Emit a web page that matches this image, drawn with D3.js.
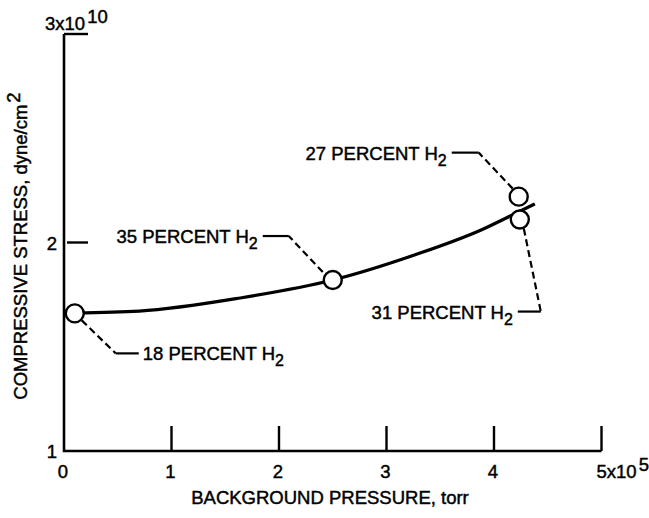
<!DOCTYPE html>
<html>
<head>
<meta charset="utf-8">
<script src="https://cdn.jsdelivr.net/npm/d3@7"></script>
<style>
  body { margin: 0; background: #fff; }
  text { font-family: "Liberation Sans", Arial, sans-serif; fill: #000; stroke: #000; stroke-width: 0.45; font-size: 18.5px; }
</style>
</head>
<body>
<script>
// size of the page
const w = 649;
const h = 518;

// measured points: pressure in 1e5 torr, stress in 1e10 dyne/cm2
const pressure = [0.1, 2.5, 4.23, 4.24];
const stress = [1.66, 1.82, 2.22, 2.11];
const percent = ["18", "35", "27", "31"];

// the faired curve through the points
const curveP = [0.1, 0.7, 1.64, 2.5, 3.26, 3.88, 4.19, 4.38];
const curveS = [1.662, 1.671, 1.734, 1.82, 1.94, 2.06, 2.137, 2.185];

// tick labels
const xTicks = [0, 1, 2, 3, 4, 5];
const yTicks = [1, 2, 3];

const xScale = d3.scaleLinear().domain([0, 5]).range([64, 601.5]);
const yScale = d3.scaleLinear().domain([1, 3]).range([451, 34]);

const svg = d3.select("body")
  .append("svg")
  .attr("width", w)
  .attr("height", h);

// axes (left and bottom lines only)
svg.append("path")
  .attr("d", `M${xScale(0)},${yScale(3)}V${yScale(1)}H${xScale(5)}`)
  .attr("fill", "none")
  .attr("stroke", "#000")
  .attr("stroke-width", 2.6);

// x ticks point up from the bottom line
svg.selectAll(".xtick")
  .data(xTicks.slice(1))
  .enter()
  .append("line")
  .attr("x1", d => xScale(d))
  .attr("x2", d => xScale(d))
  .attr("y1", yScale(1))
  .attr("y2", yScale(1) - 25)
  .attr("stroke", "#000")
  .attr("stroke-width", 2.4);

// y ticks point right
svg.selectAll(".ytick")
  .data(yTicks.slice(1))
  .enter()
  .append("line")
  .attr("x1", d => d === 3 ? xScale(0) : xScale(0) + 3)
  .attr("x2", xScale(0) + 24)
  .attr("y1", d => yScale(d))
  .attr("y2", d => yScale(d))
  .attr("stroke", "#000")
  .attr("stroke-width", 2.4);

// x tick labels
svg.selectAll(".xlab")
  .data(xTicks.slice(0, 5))
  .enter()
  .append("text")
  .attr("x", d => xScale(d) - 1)
  .attr("y", yScale(1) + 27)
  .attr("text-anchor", "middle")
  .text(d => d);

const x5 = svg.append("text")
  .attr("x", xScale(5) - 5)
  .attr("y", yScale(1) + 27);
x5.append("tspan").text("5x10");
x5.append("tspan").attr("dx", 2).attr("dy", -7).text("5");

// y tick labels
svg.selectAll(".ylab")
  .data(yTicks.slice(0, 2))
  .enter()
  .append("text")
  .attr("x", xScale(0) - 7)
  .attr("y", d => yScale(d) + 7)
  .attr("text-anchor", "end")
  .text(d => d);

const y3 = svg.append("text")
  .attr("x", xScale(0) - 19)
  .attr("y", yScale(3) - 4);
y3.append("tspan").text("3x10");
y3.append("tspan").attr("dx", 2).attr("dy", -7).text("10");

// axis titles
svg.append("text")
  .attr("x", 330)
  .attr("y", 504)
  .attr("text-anchor", "middle")
  .text("BACKGROUND PRESSURE, torr");

const yt = svg.append("text")
  .attr("transform", "translate(27,246) rotate(-90)")
  .attr("text-anchor", "middle");
yt.append("tspan").text("COMPRESSIVE STRESS,  dyne/cm");
yt.append("tspan").attr("dx", 2).attr("dy", -7).text("2");

// curve
const line = d3.line()
  .x(d => xScale(d[0]))
  .y(d => yScale(d[1]))
  .curve(d3.curveMonotoneX);

svg.append("path")
  .datum(curveP.map((p, i) => [p, curveS[i]]))
  .attr("d", line)
  .attr("fill", "none")
  .attr("stroke", "#000")
  .attr("stroke-width", 3.2);

// leader lines: pixel offsets from each point -> dashed part, solid part, label position
const leaders = [
  { dash: [[7, 7], [41, 40]], solid: [[41, 40], [64, 40]], tx: 68, anchor: "start" },
  { dash: [[-10, -8], [-44, -44]], solid: [[-44, -44], [-70, -44]], tx: -75, anchor: "end" },
  { dash: [[-6, -8], [-40, -44]], solid: [[-40, -44], [-67, -44]], tx: -72, anchor: "end" },
  { dash: [[4, 9], [21, 92]], solid: [[21, 92], [-2, 92]], tx: -7, anchor: "end" }
];

const pts = pressure.map((p, i) => ({ x: xScale(p), y: yScale(stress[i]), pct: percent[i], l: leaders[i] }));

const g = svg.selectAll(".lead")
  .data(pts)
  .enter()
  .append("g");

g.append("line")
  .attr("x1", d => d.x + d.l.dash[0][0])
  .attr("y1", d => d.y + d.l.dash[0][1])
  .attr("x2", d => d.x + d.l.dash[1][0])
  .attr("y2", d => d.y + d.l.dash[1][1])
  .attr("stroke", "#000")
  .attr("stroke-width", 2.2)
  .attr("stroke-dasharray", "7,4");

g.append("line")
  .attr("x1", d => d.x + d.l.solid[0][0])
  .attr("y1", d => d.y + d.l.solid[0][1])
  .attr("x2", d => d.x + d.l.solid[1][0])
  .attr("y2", d => d.y + d.l.solid[1][1])
  .attr("stroke", "#000")
  .attr("stroke-width", 2.2);

const lab = g.append("text")
  .attr("x", d => d.x + d.l.tx)
  .attr("y", d => d.y + d.l.solid[0][1] + 7)
  .attr("text-anchor", d => d.l.anchor);
lab.append("tspan").text(d => d.pct + " PERCENT H");
lab.append("tspan").attr("dy", 6).attr("font-size", 16).text("2");

// the open circles
svg.selectAll("circle")
  .data(pts)
  .enter()
  .append("circle")
  .attr("cx", d => d.x)
  .attr("cy", d => d.y)
  .attr("r", 9)
  .attr("fill", "#fff")
  .attr("stroke", "#000")
  .attr("stroke-width", 2.4);
</script>
</body>
</html>
